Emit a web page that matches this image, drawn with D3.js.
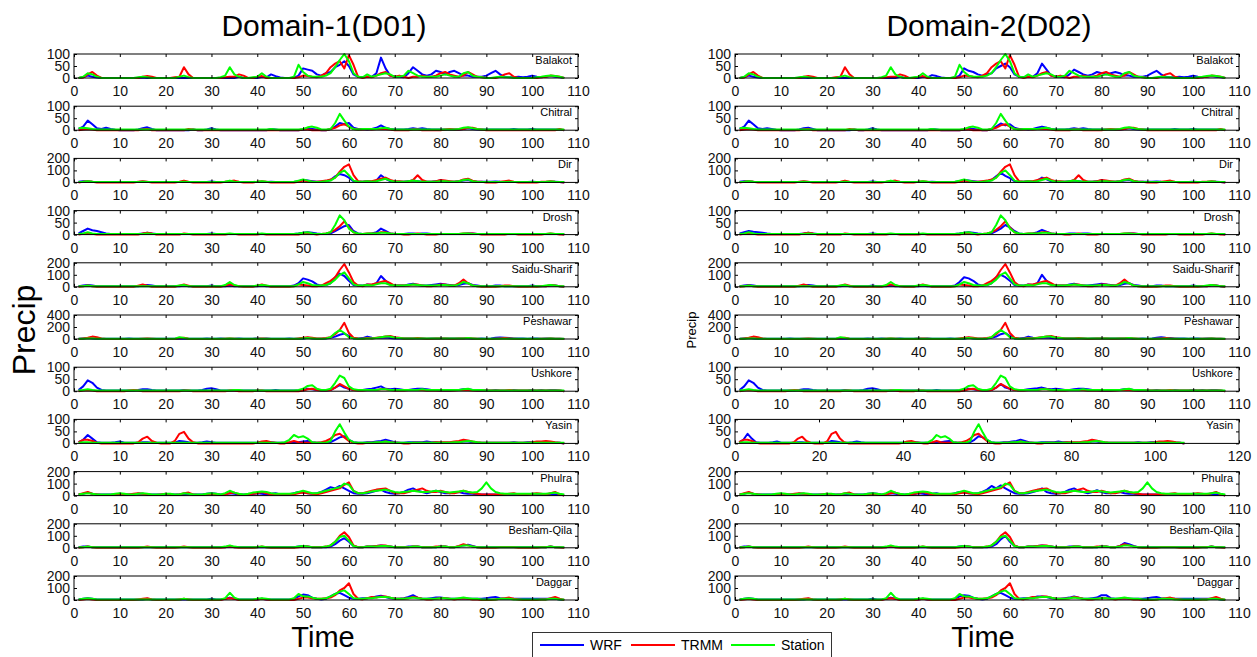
<!DOCTYPE html>
<html>
<head>
<meta charset="utf-8">
<script src="https://cdn.jsdelivr.net/npm/d3@7"></script>
<style>
  body { margin: 0; background: #fff; }
  text { font-family: "Liberation Sans", Arial, sans-serif; }
</style>
</head>
<body>
<svg id="chart" width="1257" height="657"></svg>
<script>
// daily precipitation, day 1..107
const stations = ["Balakot", "Chitral", "Dir", "Drosh", "Saidu-Sharif", "Peshawar", "Ushkore", "Yasin", "Phulra", "Besham-Qila", "Daggar"];
const yMaxes = [100, 100, 200, 100, 200, 400, 100, 100, 200, 200, 200];
const yTickLabels = [[0, 50, 100], [0, 50, 100], [0, 100, 200], [0, 50, 100], [0, 100, 200], [0, 200, 400], [0, 50, 100], [0, 50, 100], [0, 100, 200], [0, 100, 200], [0, 100, 200]];
const xTickLabels = [0, 10, 20, 30, 40, 50, 60, 70, 80, 90, 100, 110];
const xTickLabelsWide = [0, 20, 40, 60, 80, 100, 120];
const seriesNames = ["WRF", "TRMM", "Station"];

const balakotWrfD01 = [0,3,10,5,2,0,0,0,0,0, 0,0,0,0,2,0,0,0,0,0, 0,0,0,0,0,0,0,0,0,0, 0,0,0,0,0,5,0,0,0,0, 5,3,15,8,2,0,0,0,10,40, 35,30,15,10,20,25,45,55,70,50, 15,5,3,5,5,20,85,40,10,5, 5,3,20,45,30,15,10,15,30,25, 15,25,30,20,10,10,5,5,5,10, 20,30,15,5,3,3,5,3,5,10, 5,3,5,8,5,3,0];
const balakotWrfD02 = [0,3,10,5,2,0,0,0,0,0, 0,0,0,0,2,0,0,0,0,0, 0,0,0,0,0,0,0,0,0,0, 0,0,0,0,0,5,0,0,0,0, 5,3,12,8,2,0,0,0,10,40, 30,25,15,10,15,20,40,50,60,45, 15,5,3,5,5,20,60,35,10,5, 5,3,15,35,25,15,10,15,25,20, 15,20,25,20,10,10,5,5,5,10, 20,30,15,5,3,3,5,3,5,10, 5,3,5,8,5,3,0];
const balakotTrmm = [0,2,15,25,10,0,0,0,0,0, 0,0,0,0,5,8,5,0,0,0, 0,3,5,45,15,0,0,0,0,0, 0,0,3,5,5,15,10,0,0,5, 8,0,0,0,0,0,0,0,3,10, 8,5,3,10,20,45,60,70,40,95, 55,5,0,5,3,10,20,25,10,5, 10,5,0,5,5,10,5,5,10,20, 25,15,10,5,10,25,15,5,3,0, 0,0,5,15,20,5,0,0,0,0, 0,3,5,10,8,5,0];
const balakotStation = [0,5,20,15,5,0,0,0,0,0, 0,0,0,3,5,3,0,0,0,0, 0,0,5,10,3,0,0,0,0,0, 0,3,10,45,15,5,0,0,3,5, 20,5,0,0,0,0,0,5,55,25, 10,5,5,5,10,20,45,75,100,70, 20,5,3,15,5,10,15,20,15,5, 5,10,30,20,10,5,5,5,5,10, 15,10,5,5,20,25,10,5,3,0, 0,3,5,3,3,0,0,0,0,0, 3,5,8,10,8,5,0];

const chitralWrfD01 = [5,15,40,25,8,5,10,5,2,0, 0,0,0,3,8,12,5,0,0,0, 0,0,0,0,0,3,0,0,3,8, 3,0,0,0,0,0,0,0,0,0, 0,0,5,3,0,0,0,0,0,3, 5,5,3,0,0,5,15,30,25,30, 10,5,5,3,5,10,20,10,5,3, 3,3,5,8,5,8,5,3,3,3, 3,3,3,3,5,8,5,3,3,3, 3,3,3,3,3,5,3,3,3,5, 3,3,3,3,3,3,0];
const chitralWrfD02 = [5,15,40,25,8,5,8,5,2,0, 0,0,0,3,8,10,5,0,0,0, 0,0,0,0,0,3,0,0,3,8, 3,0,0,0,0,0,0,0,0,0, 0,0,5,3,0,0,0,0,0,3, 5,5,3,0,0,5,15,28,20,25, 10,5,5,3,5,10,15,10,5,3, 3,3,5,8,5,8,5,3,3,3, 3,3,3,3,5,8,5,3,3,3, 3,3,3,3,3,5,3,3,3,5, 3,3,3,3,3,3,0];
const chitralTrmm = [0,3,5,3,0,0,0,0,0,0, 0,0,0,0,3,5,0,0,0,0, 0,0,0,0,5,3,0,0,0,0, 0,0,0,0,0,0,0,0,0,0, 0,0,0,0,0,0,0,0,0,3, 3,0,0,0,0,5,10,20,25,15, 5,3,3,5,3,5,5,5,3,0, 0,0,0,3,3,0,0,0,0,0, 3,5,3,3,5,10,10,5,3,0, 0,0,0,0,0,0,0,0,0,0, 0,0,0,0,0,5,0];
const chitralStation = [8,10,8,5,3,3,3,3,3,3, 3,3,3,3,3,3,3,3,3,3, 3,3,3,3,3,3,3,3,3,3, 3,3,3,3,3,3,3,3,3,3, 3,3,5,3,3,3,3,3,3,5, 12,15,10,3,3,5,30,68,40,15, 5,3,5,5,5,5,8,10,5,3, 3,3,3,3,3,3,3,3,3,3, 3,3,3,5,10,12,8,5,3,3, 3,3,3,3,3,3,3,3,3,3, 3,3,3,3,3,3,3];

const dirWrfD01 = [5,10,8,5,3,3,3,3,3,3, 3,3,3,3,5,3,3,3,3,3, 3,3,3,3,3,3,3,3,3,8, 3,3,3,3,3,3,3,3,3,3, 3,3,5,3,3,3,3,3,10,20, 15,10,5,5,10,20,50,70,60,40, 10,5,5,10,5,15,60,30,10,5, 5,5,10,15,10,5,5,5,10,15, 10,5,5,10,15,20,10,5,5,5, 5,8,5,3,3,3,3,3,3,5, 3,3,3,5,5,3,0];
const dirWrfD02 = [5,10,8,5,3,3,3,3,3,3, 3,3,3,3,5,3,3,3,3,3, 3,3,3,3,3,3,3,3,3,8, 3,3,3,3,3,3,3,3,3,3, 3,3,5,3,3,3,3,3,10,20, 15,10,5,5,10,20,50,80,55,35, 10,5,5,10,5,15,40,25,10,5, 5,5,10,15,10,5,5,5,10,15, 10,5,5,10,15,20,10,5,5,5, 5,8,5,3,3,3,3,3,3,5, 3,3,3,5,5,3,0];
const dirTrmm = [0,5,10,5,0,0,0,0,0,0, 0,0,0,5,10,5,0,0,0,0, 0,0,5,15,5,0,0,0,0,0, 0,0,5,10,15,5,0,0,0,5, 10,5,0,0,0,0,0,0,5,15, 10,5,5,10,15,25,40,90,130,150, 60,10,5,10,10,20,30,40,20,10, 10,5,5,20,60,20,5,5,10,20, 15,10,5,10,25,30,15,5,5,0, 0,0,5,10,15,5,0,0,0,0, 0,5,5,10,5,3,0];
const dirStation = [3,5,10,5,3,3,3,3,3,3, 3,3,3,3,5,3,3,3,3,3, 3,3,3,5,3,3,3,3,3,3, 3,3,5,15,5,3,3,3,3,5, 10,5,3,3,3,3,3,5,15,25, 15,5,3,5,10,15,40,80,100,60, 15,5,5,10,5,10,20,30,15,5, 5,5,10,15,10,5,5,5,5,10, 10,5,5,10,20,25,10,5,3,3, 3,3,3,3,5,3,3,3,3,3, 3,3,5,8,5,3,3];

const droshWrfD01 = [5,15,25,18,15,10,5,3,3,3, 3,3,3,3,5,8,5,3,3,3, 3,3,3,3,3,3,3,3,3,5, 3,3,3,3,3,3,3,3,3,3, 3,3,3,3,3,3,3,3,5,8, 10,8,5,3,3,5,15,25,35,40, 15,5,3,3,5,10,25,15,5,3, 3,3,5,5,3,5,5,3,3,3, 3,3,3,3,3,5,5,3,3,3, 3,3,3,3,3,3,3,3,3,3, 3,3,3,3,3,3,0];
const droshWrfD02 = [5,10,15,12,10,8,5,3,3,3, 3,3,3,3,5,8,5,3,3,3, 3,3,3,3,3,3,3,3,3,5, 3,3,3,3,3,3,3,3,3,3, 3,3,3,3,3,3,3,3,5,8, 10,8,5,3,3,5,15,25,40,30, 15,5,3,3,5,10,20,12,5,3, 3,3,5,5,3,5,5,3,3,3, 3,3,3,3,3,5,5,3,3,3, 3,3,3,3,3,3,3,3,3,3, 3,3,3,3,3,3,0];
const droshTrmm = [0,3,5,3,0,0,0,0,0,0, 0,0,0,0,5,8,5,0,0,0, 0,0,0,5,3,0,0,0,0,0, 0,0,0,3,3,0,0,0,0,0, 3,0,0,0,0,0,0,0,0,5, 5,3,0,3,5,10,20,35,55,30, 10,3,3,5,5,5,10,10,5,3, 3,0,0,3,5,3,0,0,0,3, 3,3,3,3,5,5,5,3,0,0, 0,0,0,0,3,3,0,0,0,0, 0,0,3,5,3,0,0];
const droshStation = [3,5,10,5,3,3,3,3,3,3, 3,3,3,3,3,5,3,3,3,3, 3,3,3,3,3,3,3,3,3,3, 3,3,3,5,3,3,3,3,3,3, 5,3,3,3,3,3,3,3,5,8, 10,5,3,3,5,10,40,80,60,25, 10,5,3,5,5,5,8,8,5,3, 3,3,3,3,3,3,3,3,3,3, 3,3,3,3,5,5,3,3,3,3, 3,3,3,3,3,3,3,3,3,3, 3,3,3,5,3,3,3];

const saiduWrfD01 = [5,10,15,10,5,5,5,5,5,5, 5,5,5,5,10,15,10,5,5,5, 5,5,5,10,5,5,5,5,5,10, 5,5,5,10,5,5,5,5,5,5, 10,5,5,5,5,5,5,10,30,70, 60,45,20,10,15,30,80,110,90,50, 15,10,10,20,15,30,90,50,20,10, 10,10,20,25,15,10,10,15,20,25, 20,15,10,15,25,30,15,10,5,5, 5,10,10,5,5,5,5,5,5,10, 5,5,5,10,10,5,0];
const saiduWrfD02 = [5,10,15,10,5,5,5,5,5,5, 5,5,5,5,10,15,10,5,5,5, 5,5,5,10,5,5,5,5,5,10, 5,5,5,10,5,5,5,5,5,5, 10,5,5,5,5,5,5,10,40,80, 70,50,20,10,15,30,80,100,80,50, 15,10,10,20,15,30,100,50,20,10, 10,10,20,25,15,10,10,15,20,25, 20,15,10,15,25,30,15,10,5,5, 5,10,10,5,5,5,5,5,5,10, 5,5,5,10,10,5,0];
const saiduTrmm = [0,5,10,5,0,0,0,0,0,0, 0,0,0,10,20,10,0,0,0,0, 0,0,10,20,10,0,0,0,0,0, 0,0,10,20,10,5,0,0,0,10, 20,10,0,0,0,0,0,5,20,15, 10,5,5,10,30,50,80,140,190,120, 40,10,5,20,20,30,40,50,30,10, 10,10,10,20,20,10,5,5,10,20, 20,10,10,30,60,30,10,5,0,0, 0,0,5,10,10,5,0,0,0,0, 0,5,5,15,10,5,0];
const saiduStation = [5,5,10,5,5,5,5,5,5,5, 5,5,5,5,5,5,5,5,5,5, 5,5,10,15,5,5,5,5,5,5, 5,5,15,40,15,5,5,5,5,10, 15,10,5,5,5,5,5,5,20,40, 30,15,10,10,15,30,60,100,120,70, 20,10,10,15,10,20,30,30,15,10, 10,10,15,20,15,10,10,10,10,15, 15,10,10,20,40,30,10,5,5,5, 5,5,5,5,5,5,5,5,5,5, 5,5,10,15,10,5,5];

const peshawarWrfD01 = [5,10,15,10,5,5,5,5,5,5, 5,10,5,5,5,5,5,5,5,5, 5,5,5,10,5,5,5,5,10,5, 5,10,5,5,5,10,5,5,5,10, 5,10,5,5,5,5,10,5,5,5, 20,10,5,5,10,20,40,70,90,50, 10,10,15,40,20,15,20,25,15,10, 10,10,10,10,10,10,5,10,10,10, 10,10,10,10,10,10,5,5,10,5, 10,20,25,20,15,10,10,10,5,10, 10,5,10,10,5,5,0];
const peshawarWrfD02 = [5,10,15,10,5,5,5,5,5,5, 5,10,5,5,5,5,5,5,5,5, 5,5,5,10,5,5,5,5,10,5, 5,10,5,5,5,10,5,5,5,10, 5,10,5,5,5,5,10,5,5,5, 20,10,5,5,10,20,40,80,100,50, 10,10,15,40,20,15,20,25,15,10, 10,10,10,10,10,10,5,10,10,10, 10,10,10,10,10,10,5,5,10,5, 10,20,30,20,15,10,10,10,5,10, 10,5,10,10,5,5,0];
const peshawarTrmm = [0,10,20,40,30,10,0,0,0,0, 0,0,0,0,5,10,5,0,0,0, 0,0,15,20,5,0,0,0,0,0, 0,0,5,10,5,0,0,0,0,5, 10,5,0,0,0,0,0,0,10,20, 30,20,10,10,15,30,80,150,270,100, 20,10,5,15,10,20,30,40,50,30, 20,10,10,10,15,10,5,5,10,10, 10,5,5,10,10,15,10,5,0,0, 0,5,10,15,10,5,0,0,0,0, 0,5,5,10,5,5,0];
const peshawarStation = [5,5,10,10,5,5,5,5,5,5, 5,5,5,5,5,5,5,5,5,5, 5,5,30,15,5,5,5,5,5,5, 5,5,5,10,5,5,5,5,5,5, 5,5,5,5,5,5,5,5,5,10, 15,10,5,5,10,30,100,150,100,30, 10,5,5,10,10,15,30,40,40,20, 15,10,10,10,10,10,10,10,10,10, 10,10,10,10,10,15,10,5,5,5, 5,5,5,5,5,5,5,5,5,5, 5,5,5,10,5,5,5];

const ushkoreWrfD01 = [5,20,45,35,15,5,3,3,3,3, 3,3,3,5,8,8,5,3,3,3, 3,3,3,5,3,3,3,5,10,12, 8,3,3,3,3,3,3,3,3,3, 3,3,3,5,3,3,3,3,3,5, 10,8,5,3,3,5,15,25,15,10, 5,5,5,8,10,15,20,10,8,10, 8,5,5,8,10,10,8,5,5,3, 3,3,5,5,8,8,5,3,3,3, 3,5,3,3,3,5,3,3,3,5, 3,5,3,5,5,3,0];
const ushkoreWrfD02 = [5,20,45,35,15,5,3,3,3,3, 3,3,3,5,8,8,5,3,3,3, 3,3,3,5,3,3,3,5,10,12, 8,3,3,3,3,3,3,3,3,3, 3,3,3,5,3,3,3,3,3,5, 10,8,5,3,3,5,15,30,15,10, 5,5,5,8,10,12,15,10,8,10, 8,5,5,8,10,10,8,5,5,3, 3,3,5,5,8,8,5,3,3,3, 3,5,3,3,3,5,3,3,3,5, 3,5,3,5,5,3,0];
const ushkoreTrmm = [0,3,5,3,0,0,0,0,0,0, 0,3,5,3,0,0,0,0,0,0, 0,0,0,3,3,0,0,0,0,0, 0,0,0,3,3,0,0,0,0,3, 3,0,0,0,0,0,0,0,0,3, 8,10,5,3,3,5,15,30,20,10, 5,3,3,5,5,5,8,8,5,3, 3,3,5,5,5,5,3,3,3,3, 3,3,3,5,5,5,3,3,3,3, 3,3,3,3,5,3,3,3,3,3, 3,3,3,3,3,3,0];
const ushkoreStation = [3,5,8,5,3,3,3,3,3,3, 3,3,3,3,3,3,3,3,3,3, 3,3,3,3,3,3,3,3,3,3, 3,3,3,3,5,5,3,3,3,3, 3,3,3,3,3,3,3,3,5,10, 22,25,10,5,5,10,35,65,55,20, 8,5,5,5,5,5,8,8,5,5, 5,5,5,5,5,8,5,5,5,5, 5,5,5,5,8,10,5,5,5,3, 3,3,3,3,3,3,3,3,3,3, 3,3,3,3,3,3,3];

const yasinWrfD01 = [5,15,35,20,5,3,3,3,5,8, 3,3,3,3,5,5,3,3,3,3, 3,3,10,8,5,3,3,5,8,5, 3,3,3,3,3,3,3,3,3,3, 3,3,5,3,3,3,3,3,5,8, 10,5,3,3,3,5,15,25,30,15, 5,3,3,5,5,8,10,15,10,5, 3,3,5,5,5,5,8,5,5,3, 3,3,5,5,8,8,5,3,3,3, 3,3,3,3,3,5,3,3,5,5, 3,3,5,5,3,3,0];
const yasinWrfD02 = [5,15,40,20,5,3,3,3,5,8, 3,3,3,3,5,5,3,3,3,3, 3,3,10,8,5,3,3,5,8,5, 3,3,3,3,3,3,3,3,3,3, 3,3,5,3,3,3,3,3,5,8, 10,5,3,3,3,5,15,30,25,15, 5,3,3,5,5,8,10,15,10,5, 3,3,5,5,5,5,8,5,5,3, 3,3,5,5,8,8,5,3,3,3, 3,3,3,3,3,5,3,3,5,5, 3,3,5,5,3,3,0];
const yasinTrmm = [5,15,15,10,3,0,0,0,0,0, 0,0,0,5,20,28,10,3,0,0, 0,10,40,48,20,5,0,0,0,0, 0,0,0,0,0,0,0,0,0,3, 8,10,5,3,0,0,5,10,5,3, 3,3,3,5,10,20,35,40,25,10, 3,0,0,3,3,3,5,8,5,3, 3,0,0,3,3,3,3,3,5,5, 5,5,8,10,15,12,8,5,3,3, 3,3,3,3,3,3,3,3,3,5, 8,8,10,8,5,3,0];
const yasinStation = [3,5,5,3,3,3,3,3,3,3, 3,3,3,3,3,3,3,3,3,3, 3,3,3,3,3,3,3,3,3,3, 3,3,3,3,3,3,3,3,3,3, 3,3,3,3,3,5,15,35,25,30, 20,5,3,3,3,10,50,80,45,15, 5,3,3,3,3,5,5,8,5,3, 3,3,3,3,3,3,3,3,3,3, 3,3,5,5,8,10,8,5,3,3, 3,3,3,3,3,3,3,3,3,3, 3,3,3,3,3,3,3];

const phulraWrfD01 = [10,15,25,15,10,10,10,10,10,10, 10,10,10,15,15,10,10,10,10,10, 10,10,10,10,15,10,10,10,15,20, 15,10,10,20,15,10,10,10,10,20, 15,10,15,20,10,10,10,20,30,25, 20,15,20,30,50,70,60,80,60,40, 20,15,15,20,30,40,50,30,20,15, 20,30,50,60,40,30,20,30,40,30, 20,20,25,30,20,15,15,10,10,10, 10,10,10,10,10,10,10,10,10,15, 10,10,10,10,10,10,0];
const phulraWrfD02 = [10,15,25,15,10,10,10,10,10,10, 10,10,10,15,15,10,10,10,10,10, 10,10,10,10,15,10,10,10,15,20, 15,10,10,20,15,10,10,10,10,20, 15,10,15,20,10,10,10,20,30,25, 20,15,20,30,50,80,60,85,60,40, 20,15,15,20,30,40,60,30,20,15, 20,30,50,60,40,30,20,30,45,30, 20,20,25,30,20,15,15,10,10,10, 10,10,10,10,10,10,10,10,10,15, 10,10,10,10,10,10,0];
const phulraTrmm = [10,20,30,15,10,5,5,5,10,15, 10,10,15,20,15,10,5,5,10,15, 10,5,10,20,25,10,5,5,10,15, 10,5,10,20,25,10,5,10,15,20, 30,20,10,10,10,10,10,10,20,25, 20,15,10,20,30,40,50,60,90,110, 40,20,20,30,40,50,55,60,40,20, 20,20,30,40,50,60,40,30,30,40, 30,20,20,30,40,30,20,15,10,10, 10,10,10,10,15,20,10,10,10,15, 20,15,10,20,30,10,0];
const phulraStation = [10,15,20,15,10,10,10,10,15,20, 15,10,10,15,20,15,10,10,10,15, 15,10,10,20,15,10,10,10,15,20, 15,10,20,40,25,15,10,15,25,30, 35,30,20,15,15,15,15,20,30,40, 30,20,20,30,40,50,60,70,100,90, 40,20,20,25,35,40,45,50,40,30, 25,30,35,40,35,30,30,35,40,35, 30,25,30,35,40,30,25,30,60,110, 60,30,20,15,15,15,15,15,15,15, 15,15,15,20,25,15,10];

const beshamWrfD01 = [5,10,10,5,5,5,5,5,5,5, 5,5,5,5,5,5,5,5,5,5, 5,5,5,5,5,5,5,5,5,5, 5,5,5,10,5,5,5,5,5,5, 5,5,5,5,5,5,5,5,10,15, 10,5,5,5,5,10,30,60,80,50, 15,5,5,10,10,15,20,15,10,5, 5,5,10,10,10,5,5,5,5,10, 10,5,5,10,20,25,15,5,5,5, 5,5,5,5,5,5,5,5,5,5, 5,5,5,10,5,5,0];
const beshamWrfD02 = [5,10,10,5,5,5,5,5,5,5, 5,5,5,5,5,5,5,5,5,5, 5,5,5,5,5,5,5,5,5,5, 5,5,5,10,5,5,5,5,5,5, 5,5,5,5,5,5,5,5,10,15, 10,5,5,5,5,10,30,70,100,50, 15,5,5,10,10,15,20,15,10,5, 5,5,10,10,10,5,5,5,5,10, 10,5,5,15,40,30,15,5,5,5, 5,5,5,5,5,5,5,5,5,5, 5,5,5,10,5,5,0];
const beshamTrmm = [0,5,10,5,0,0,0,0,0,0, 0,0,0,0,5,10,5,0,0,0, 0,0,5,10,5,0,0,0,0,0, 0,0,5,15,5,0,0,0,0,5, 10,5,0,0,0,0,0,0,5,10, 10,5,5,5,10,20,50,100,130,90, 20,5,5,10,10,15,20,20,10,5, 5,5,5,10,10,5,5,5,10,10, 10,5,5,15,30,20,10,5,0,0, 0,0,5,5,5,5,0,0,0,0, 0,5,5,10,5,3,0];
const beshamStation = [5,5,10,5,5,5,5,5,5,5, 5,5,5,5,5,5,5,5,5,5, 5,5,5,5,5,5,5,5,5,5, 5,5,10,20,10,5,5,5,5,5, 10,5,5,5,5,5,5,5,10,15, 10,5,5,5,10,20,50,90,100,60, 15,5,5,10,10,10,15,15,10,5, 5,5,5,10,10,5,5,5,5,10, 10,5,5,10,20,20,10,5,5,5, 5,5,5,5,5,5,5,5,5,5, 5,5,5,10,5,5,5];

const daggarWrfD01 = [5,10,15,10,5,5,5,5,5,5, 5,5,5,5,5,10,5,5,5,5, 5,5,5,5,5,5,5,5,5,10, 5,5,10,20,10,5,5,5,5,5, 10,5,5,5,5,5,5,10,30,45, 40,20,10,5,10,30,50,60,40,20, 10,10,15,15,20,30,35,25,15,10, 10,15,25,40,20,10,10,15,20,20, 15,10,10,10,15,10,10,10,10,15, 20,25,15,10,10,10,10,10,10,10, 10,10,10,10,10,5,0];
const daggarWrfD02 = [5,10,15,10,5,5,5,5,5,5, 5,5,5,5,5,10,5,5,5,5, 5,5,5,5,5,5,5,5,5,10, 5,5,10,20,10,5,5,5,5,5, 10,5,5,5,5,5,5,10,30,40, 35,20,10,5,10,30,50,60,40,20, 10,10,15,15,20,30,30,25,15,10, 10,15,20,30,20,10,10,15,20,40, 40,15,10,10,15,10,10,10,10,15, 20,25,15,10,10,10,10,10,10,10, 10,10,10,10,10,5,0];
const daggarTrmm = [0,5,10,5,0,0,0,0,0,0, 0,0,0,5,10,15,5,0,0,0, 0,0,5,10,5,0,0,0,0,0, 0,0,10,15,10,0,0,0,0,5, 10,5,0,0,0,0,0,0,10,20, 20,15,10,10,15,20,40,80,100,140, 50,10,5,15,25,20,30,30,20,10, 10,10,15,25,20,10,5,5,10,15, 15,10,5,10,15,10,5,5,0,0, 0,5,10,15,20,10,5,0,0,0, 0,5,5,15,25,10,0];
const daggarStation = [5,10,15,10,5,5,5,5,5,5, 5,5,5,5,5,5,5,5,5,5, 5,5,5,10,5,5,5,5,5,5, 5,5,15,60,20,5,5,5,5,10, 15,10,5,5,5,5,5,15,50,30, 30,20,10,10,15,30,50,70,80,50, 15,10,10,15,15,20,25,25,20,10, 10,10,15,20,15,10,10,10,10,15, 15,10,10,15,20,15,10,10,5,5, 5,5,10,10,10,5,5,5,5,5, 5,5,5,10,10,5,5];

const wrfD01 = [balakotWrfD01, chitralWrfD01, dirWrfD01, droshWrfD01, saiduWrfD01, peshawarWrfD01, ushkoreWrfD01, yasinWrfD01, phulraWrfD01, beshamWrfD01, daggarWrfD01];
const wrfD02 = [balakotWrfD02, chitralWrfD02, dirWrfD02, droshWrfD02, saiduWrfD02, peshawarWrfD02, ushkoreWrfD02, yasinWrfD02, phulraWrfD02, beshamWrfD02, daggarWrfD02];
const trmmAll = [balakotTrmm, chitralTrmm, dirTrmm, droshTrmm, saiduTrmm, peshawarTrmm, ushkoreTrmm, yasinTrmm, phulraTrmm, beshamTrmm, daggarTrmm];
const stationAll = [balakotStation, chitralStation, dirStation, droshStation, saiduStation, peshawarStation, ushkoreStation, yasinStation, phulraStation, beshamStation, daggarStation];

const colors = { WRF: "#0000ff", TRMM: "#ff0000", Station: "#00ff00" };
const panelTop = 54, panelStep = 52.2, panelH = 24;
const fontFamily = '"Liberation Sans", Arial, sans-serif';

const columns = [
  { x0: 74, x1: 578, title: "Domain-1(D01)", titleX: 324, timeX: 323, wrf: wrfD01, bigLabel: true },
  { x0: 735, x1: 1239, title: "Domain-2(D02)", titleX: 989, timeX: 983, wrf: wrfD02, bigLabel: false }
];

const svg = d3.select("#chart");

const drawPanel = (g, col, i, colIndex) => {
  const top = panelTop + i * panelStep;
  const wide = colIndex === 1 && stations[i] === "Yasin";
  const xTicks = wide ? xTickLabelsWide : xTickLabels;
  const x = d3.scaleLinear().domain([0, wide ? 120 : 110]).range([col.x0, col.x1]);
  const y = d3.scaleLinear().domain([0, yMaxes[i]]).range([top + panelH, top]);

  const line = d3.line()
    .x((d, k) => x(k + 1))
    .y(d => y(d));

  const series = [
    { name: "WRF", values: col.wrf[i] },
    { name: "TRMM", values: trmmAll[i] },
    { name: "Station", values: stationAll[i] }
  ];

  g.selectAll("path.series")
    .data(series)
    .enter()
    .append("path")
    .classed("series", true)
    .attr("fill", "none")
    .attr("stroke", d => colors[d.name])
    .attr("stroke-width", 2)
    .attr("stroke-linejoin", "round")
    .attr("d", d => line(d.values));

  // station name in the top right corner
  const label = g.append("text")
    .attr("x", col.x1 - 6)
    .attr("y", top + 10)
    .attr("text-anchor", "end")
    .attr("font-size", 11)
    .text(stations[i]);
  const bb = label.node().getBBox();
  g.insert("rect", "text")
    .attr("x", bb.x - 1)
    .attr("y", top + 1)
    .attr("width", bb.width + 2)
    .attr("height", bb.height - 1)
    .attr("fill", "#fff");

  const styleAxis = a => {
    a.select(".domain").remove();
    a.attr("font-size", 14).attr("font-family", fontFamily);
    a.selectAll("line").attr("stroke", "#000");
    a.selectAll("text").attr("fill", "#111");
  };

  g.append("g")
    .attr("transform", `translate(0,${top + panelH})`)
    .call(d3.axisBottom(x).tickValues(xTicks).tickSize(-3).tickPadding(8))
    .call(styleAxis);
  g.append("g")
    .attr("transform", `translate(0,${top})`)
    .call(d3.axisTop(x).tickValues(xTicks).tickSize(-3).tickFormat(""))
    .call(styleAxis);
  g.append("g")
    .attr("transform", `translate(${col.x0},0)`)
    .call(d3.axisLeft(y).tickValues(yTickLabels[i]).tickSize(-3).tickPadding(4))
    .call(styleAxis);
  g.append("g")
    .attr("transform", `translate(${col.x1},0)`)
    .call(d3.axisRight(y).tickValues(yTickLabels[i]).tickSize(-3).tickFormat(""))
    .call(styleAxis);

  g.append("rect")
    .attr("x", col.x0)
    .attr("y", top)
    .attr("width", col.x1 - col.x0)
    .attr("height", panelH)
    .attr("fill", "none")
    .attr("stroke", "#000")
    .attr("stroke-width", 1);
};

columns.forEach((col, c) => {
  const colG = svg.append("g");
  stations.forEach((s, i) => drawPanel(colG.append("g"), col, i, c));

  colG.append("text")
    .attr("x", col.titleX)
    .attr("y", 36)
    .attr("text-anchor", "middle")
    .attr("font-size", 30)
    .text(col.title);

  colG.append("text")
    .attr("x", col.timeX)
    .attr("y", 647)
    .attr("text-anchor", "middle")
    .attr("font-size", 29)
    .text("Time");

  const py = 330;
  const px = col.bigLabel ? 35 : 696;
  colG.append("text")
    .attr("transform", `translate(${px},${py}) rotate(-90)`)
    .attr("text-anchor", "middle")
    .attr("font-size", col.bigLabel ? 32 : 13)
    .text("Precip");
});

// legend
const legend = svg.append("g");
legend.append("rect")
  .attr("x", 532.5)
  .attr("y", 632.5)
  .attr("width", 299)
  .attr("height", 30)
  .attr("fill", "#fff")
  .attr("stroke", "#333");
const legendX = [540, 631, 731];
seriesNames.forEach((name, k) => {
  legend.append("line")
    .attr("x1", legendX[k]).attr("x2", legendX[k] + 44)
    .attr("y1", 645).attr("y2", 645)
    .attr("stroke", colors[name]).attr("stroke-width", 2);
  legend.append("text")
    .attr("x", legendX[k] + 50)
    .attr("y", 650)
    .attr("font-size", 14)
    .text(name);
});
</script>
</body>
</html>
